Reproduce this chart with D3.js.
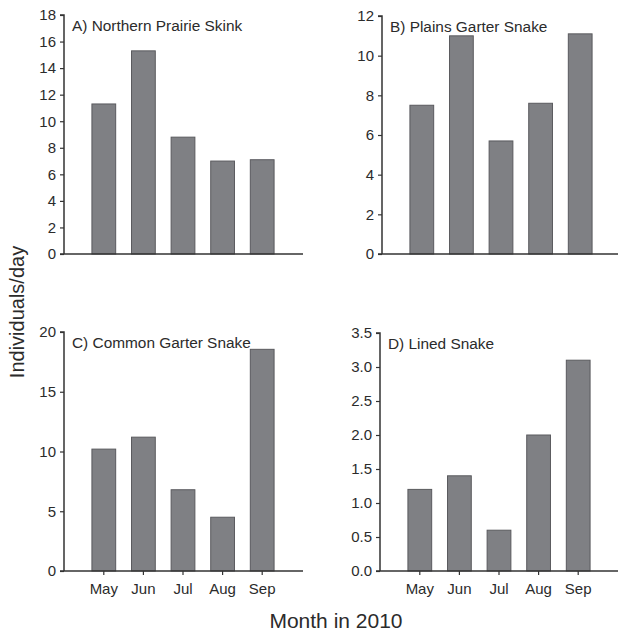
<!DOCTYPE html>
<html>
<head>
<meta charset="utf-8">
<script src="https://cdn.jsdelivr.net/npm/d3@7"></script>
<style>
  html, body { margin: 0; padding: 0; background: #fff; }
  svg { display: block; font-family: "Liberation Sans", Arial, sans-serif; }
</style>
</head>
<body>
<svg id="chart" width="618" height="635"></svg>
<script>
// Monthly capture rates (individuals/day), 2010
const months = ["May", "Jun", "Jul", "Aug", "Sep"];
const skink = [11.3, 15.3, 8.8, 7.0, 7.1];
const plainsGarter = [7.5, 11.0, 5.7, 7.6, 11.1];
const commonGarter = [10.2, 11.2, 6.8, 4.5, 18.55];
const linedSnake = [1.2, 1.4, 0.6, 2.0, 3.1];

const ticksA = [0, 2, 4, 6, 8, 10, 12, 14, 16, 18];
const ticksB = [0, 2, 4, 6, 8, 10, 12];
const ticksC = [0, 5, 10, 15, 20];
const ticksD = [0, 0.5, 1.0, 1.5, 2.0, 2.5, 3.0, 3.5];

const panelTitles = ["A) Northern Prairie Skink", "B) Plains Garter Snake",
                     "C) Common Garter Snake", "D) Lined Snake"];

const panels = [
  { title: panelTitles[0], values: skink, ticks: ticksA, max: 18, fmt: d3.format("d"),
    left: 64, right: 303, top: 15, bottom: 254, monthAxis: false },
  { title: panelTitles[1], values: plainsGarter, ticks: ticksB, max: 12, fmt: d3.format("d"),
    left: 382, right: 618, top: 16, bottom: 254, monthAxis: false },
  { title: panelTitles[2], values: commonGarter, ticks: ticksC, max: 20, fmt: d3.format("d"),
    left: 64, right: 303, top: 332, bottom: 571, monthAxis: true },
  { title: panelTitles[3], values: linedSnake, ticks: ticksD, max: 3.5, fmt: d3.format(".1f"),
    left: 380, right: 618, top: 333, bottom: 571, monthAxis: true }
];

const svg = d3.select("#chart");
const textColor = "#2b2b2b";
const axisColor = "#333";

panels.forEach(p => {
  const g = svg.append("g");

  const x = d3.scaleBand()
    .domain(months)
    .range([p.left + 20, p.left + 218])
    .paddingInner(0.4)
    .paddingOuter(0.2);

  const y = d3.scaleLinear().domain([0, p.max]).range([p.bottom, p.top]);

  // bars
  g.selectAll("rect.bar")
    .data(p.values)
    .join("rect")
    .attr("class", "bar")
    .attr("x", (d, i) => x(months[i]))
    .attr("width", x.bandwidth())
    .attr("y", d => y(d))
    .attr("height", d => y(0) - y(d))
    .attr("fill", "#7f8084")
    .attr("stroke", "#5a5a5e")
    .attr("stroke-width", 1);

  // y axis
  const yAxis = d3.axisLeft(y)
    .tickValues(p.ticks)
    .tickFormat(p.fmt)
    .tickSize(4)
    .tickPadding(4);
  const ya = g.append("g")
    .attr("transform", `translate(${p.left},0)`)
    .call(yAxis);
  ya.select(".domain").attr("stroke", axisColor).attr("stroke-width", 1.5)
    .attr("d", `M-4,${p.top}H0V${p.bottom}`);
  ya.selectAll(".tick line").attr("stroke", axisColor).attr("stroke-width", 1.2);
  ya.selectAll(".tick text")
    .attr("fill", textColor)
    .style("font-size", "15px")
    .style("font-family", "'Liberation Sans', Arial, sans-serif");

  // x axis
  if (p.monthAxis) {
    const xAxis = d3.axisBottom(x).tickSize(4).tickPadding(8).tickSizeOuter(0);
    const xa = g.append("g")
      .attr("transform", `translate(0,${p.bottom})`)
      .call(xAxis);
    xa.select(".domain").remove();
    xa.selectAll(".tick line").attr("stroke", axisColor).attr("stroke-width", 1.2);
    xa.selectAll(".tick text")
      .attr("fill", textColor)
      .style("font-size", "15px")
      .style("font-family", "'Liberation Sans', Arial, sans-serif");
  }
  g.append("line")
    .attr("x1", p.left - 4).attr("x2", p.right)
    .attr("y1", p.bottom).attr("y2", p.bottom)
    .attr("stroke", axisColor).attr("stroke-width", 1.5);

  // panel title
  g.append("text")
    .attr("x", p.left + 8)
    .attr("y", p.top + 16)
    .attr("fill", textColor)
    .style("font-size", "15.4px")
    .text(p.title);
});

// shared axis titles
svg.append("text")
  .attr("transform", "translate(24,312) rotate(-90)")
  .attr("text-anchor", "middle")
  .attr("fill", textColor)
  .style("font-size", "20px")
  .text("Individuals/day");

svg.append("text")
  .attr("x", 336)
  .attr("y", 628)
  .attr("text-anchor", "middle")
  .attr("fill", textColor)
  .style("font-size", "21px")
  .text("Month in 2010");
</script>
</body>
</html>
